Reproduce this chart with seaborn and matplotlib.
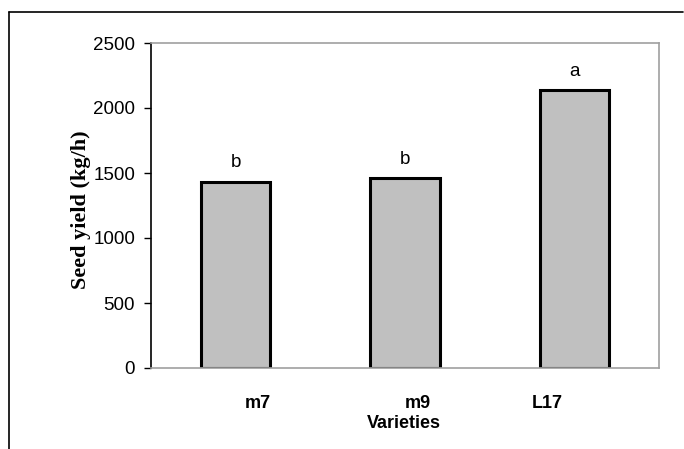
import matplotlib
matplotlib.use("Agg")
import matplotlib.pyplot as plt
import matplotlib.transforms as mtransforms
from matplotlib.lines import Line2D
import seaborn as sns
import pandas as pd

# ---- data ----
varieties = ["m7", "m9", "L17"]
seed_yield = [1433, 1459, 2138]
letters = ["b", "b", "a"]
y_ticks = [0, 500, 1000, 1500, 2000, 2500]

df = pd.DataFrame({"Varieties": varieties, "Yield": seed_yield})

sns.set_style("white")
plt.rcParams["font.family"] = ["Liberation Sans", "DejaVu Sans"]
plt.rcParams["text.color"] = "black"
plt.rcParams["axes.labelcolor"] = "black"
plt.rcParams["xtick.color"] = "black"
plt.rcParams["ytick.color"] = "black"

fig = plt.figure(figsize=(6.84, 4.49), dpi=100)
ax = fig.add_axes([151 / 684, 1 - 368 / 449, (659 - 151) / 684, (368 - 43) / 449])

sns.barplot(data=df, x="Varieties", y="Yield", color="#c0c0c0", edgecolor="black",
            linewidth=2.2, width=0.41, saturation=1, ax=ax, errorbar=None)

ax.set_ylim(0, 2500)
ax.set_xlim(-0.5, len(varieties) - 0.5)
ax.set_yticks(y_ticks)
ax.set_yticklabels([str(t) for t in y_ticks], fontsize=13.5, color="black")
ax.tick_params(axis="y", left=True, length=5, width=1, color="black", pad=6.5)
ax.tick_params(axis="x", bottom=False, length=0, pad=19.5)
ax.set_xticks(range(len(varieties)))
ax.set_xticklabels(varieties, fontsize=13, fontweight="bold", va="top", color="black")

# shift x tick labels as in the reference
offsets_px = [22, 13, -27]
for lab, off in zip(ax.get_xticklabels(), offsets_px):
    lab.set_transform(lab.get_transform() + mtransforms.ScaledTranslation(off / 100, 0, fig.dpi_scale_trans))

for side in ["top", "right", "bottom"]:
    ax.spines[side].set_color("#a0a0a0")
    ax.spines[side].set_linewidth(1.2)
    ax.spines[side].set_visible(True)
ax.spines["left"].set_color("black")
ax.spines["left"].set_linewidth(1.2)

for i, (v, l) in enumerate(zip(seed_yield, letters)):
    ax.annotate(l, (i, v), xytext=(0, 13.5), textcoords="offset points",
                ha="center", va="center", fontsize=13.5, color="black")

ax.set_xlabel("Varieties", fontsize=13, fontweight="bold", color="black")
ax.xaxis.set_label_coords((404 - 151) / 508, (368 - 423) / 325)
ax.xaxis.label.set_va("center")
ax.set_ylabel("Seed yield (kg/h)", fontsize=16, fontweight="bold", color="black",
              family=["Liberation Serif", "DejaVu Serif"])
ax.yaxis.set_label_coords((81 - 151) / 508, (368 - 210) / 325)
ax.yaxis.label.set_va("center")

# outer frame lines (top and left)
fig.add_artist(Line2D([9 / 684, 683 / 684], [1 - 12 / 449, 1 - 12 / 449],
                      transform=fig.transFigure, color="black", linewidth=1.2))
fig.add_artist(Line2D([9 / 684, 9 / 684], [1 - 12 / 449, 0],
                      transform=fig.transFigure, color="black", linewidth=1.2))

fig.savefig("out.png", dpi=100)
